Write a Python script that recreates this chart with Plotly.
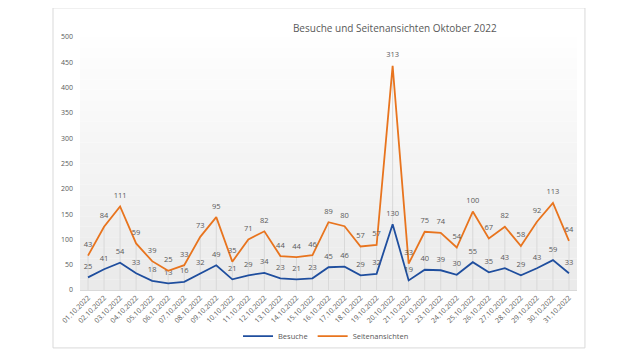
import plotly.graph_objects as go

dates = ["01.10.2022","02.10.2022","03.10.2022","04.10.2022","05.10.2022","06.10.2022","07.10.2022",
         "08.10.2022","09.10.2022","10.10.2022","11.10.2022","12.10.2022","13.10.2022","14.10.2022",
         "15.10.2022","16.10.2022","17.10.2022","18.10.2022","19.10.2022","20.10.2022","21.10.2022",
         "22.10.2022","23.10.2022","24.10.2022","25.10.2022","26.10.2022","27.10.2022","28.10.2022",
         "29.10.2022","30.10.2022","31.10.2022"]
besuche = [25,41,54,33,18,13,16,32,49,21,29,34,23,21,23,45,46,29,32,130,19,40,39,30,55,35,43,29,43,59,33]
seitenansichten = [43,84,111,59,39,25,33,73,95,35,71,82,44,44,46,89,80,57,57,313,33,75,74,54,100,67,82,58,92,113,64]

BLUE = "#1F4E9E"
ORANGE = "#E8741E"
GRAY_TXT = "#595959"

# stacked line (Excel "Linie gestapelt")
total = [b + s for b, s in zip(besuche, seitenansichten)]

# drop lines from axis to highest point
dx, dy = [], []
for d, t in zip(dates, total):
    dx += [d, d, None]
    dy += [0, t, None]

fig = go.Figure()

fig.add_trace(go.Scatter(x=dx, y=dy, mode="lines", line=dict(color="#d9d9d9", width=1),
                         showlegend=False, hoverinfo="skip"))

lblfont = dict(size=7.5, color=GRAY_TXT, family="Open Sans")
fig.add_trace(go.Scatter(x=dates, y=besuche, mode="lines+markers+text", name="Besuche",
                         line=dict(color=BLUE, width=1.8),
                         marker=dict(size=9, color="rgba(0,0,0,0)"),
                         text=[str(v) for v in besuche], textposition="top center",
                         textfont=lblfont))
fig.add_trace(go.Scatter(x=dates, y=total, mode="lines+markers+text", name="Seitenansichten",
                         line=dict(color=ORANGE, width=1.8),
                         marker=dict(size=9, color="rgba(0,0,0,0)"),
                         text=[str(v) for v in seitenansichten], textposition="top center",
                         textfont=lblfont))

# plot-area gradient background (white -> light gray)
shapes = []
n = 24
for i in range(n):
    f = i / (n - 1)
    c = int(round(254 - f * 20))
    shapes.append(dict(type="rect", xref="x domain", yref="y domain",
                       x0=0, x1=1, y0=1 - (i + 1) / n, y1=1 - i / n,
                       fillcolor=f"rgb({c},{c},{c})", line=dict(width=0), layer="below"))
# chart frame
shapes.append(dict(type="rect", xref="paper", yref="paper",
                   x0=-0.0543, x1=1.016, y0=-0.229, y1=1.115,
                   line=dict(color="#d9d9d9", width=1), fillcolor="rgba(0,0,0,0)", layer="below"))

fig.update_layout(
    width=632, height=352,
    margin=dict(l=72, r=63, t=29, b=70, autoexpand=False),
    paper_bgcolor="white", plot_bgcolor="white",
    font=dict(family="Open Sans", color=GRAY_TXT),
    title=dict(text="Besuche und Seitenansichten Oktober 2022", x=0.612, xanchor="center",
               y=0.943, yanchor="middle", font=dict(size=10, color=GRAY_TXT)),
    shapes=shapes,
    showlegend=True,
    legend=dict(orientation="h", x=0.495, xanchor="center", y=-0.182, yanchor="middle",
                font=dict(size=7.5, color=GRAY_TXT), bgcolor="rgba(0,0,0,0)",
                itemwidth=30, tracegroupgap=0),
    xaxis=dict(type="category", range=[-0.5, 30.5], tickangle=-45, showgrid=False,
               tickfont=dict(size=7, color=GRAY_TXT), showline=True, linecolor="#d9d9d9",
               ticks="", fixedrange=True, automargin=False),
    yaxis=dict(range=[0, 500], dtick=50, showgrid=False, zeroline=False,
               tickfont=dict(size=7, color=GRAY_TXT), ticks="", showline=False,
               fixedrange=True, automargin=False, ticklabelstandoff=6),
)

fig.write_html("out.html")
